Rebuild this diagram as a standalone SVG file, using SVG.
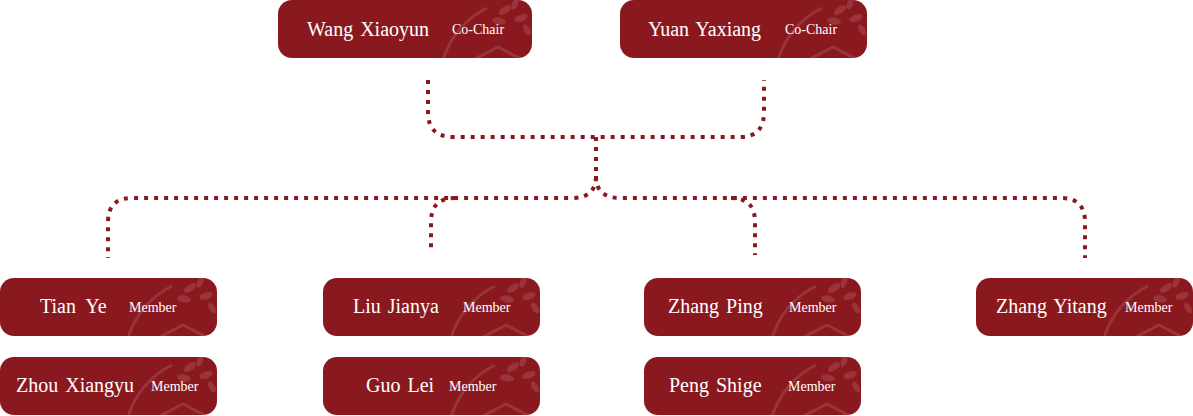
<svg xmlns="http://www.w3.org/2000/svg" width="1193" height="416" viewBox="0 0 1193 416">
<style>
.box{fill:#8A191F}
.name{font-family:"Liberation Serif","Times New Roman",serif;font-size:20px;fill:#FFFFFF;word-spacing:2px}
.role{font-family:"Liberation Serif","Times New Roman",serif;font-size:14px;fill:#FFFFFF}
.deco{fill:none;stroke:#FFFFFF;stroke-opacity:0.12;stroke-width:3}
.leaf{fill:#FFFFFF;fill-opacity:0.12}
.conn{fill:none;stroke:#8A191F;stroke-width:4;stroke-dasharray:4 6}
</style>
<defs>
<clipPath id="clipM" clipPathUnits="userSpaceOnUse"><rect x="0" y="0" width="217" height="58" rx="14"/></clipPath>
<clipPath id="clipW" clipPathUnits="userSpaceOnUse"><rect x="0" y="0" width="254" height="58" rx="14"/></clipPath>
<clipPath id="clipY" clipPathUnits="userSpaceOnUse"><rect x="0" y="0" width="247" height="58" rx="14"/></clipPath>
<g id="deco">
<path class="deco" d="M128,60 A85,85 0 0 1 172,8"/>
<path class="deco" d="M158,60 L183,47 L208,60"/>
<ellipse class="leaf" cx="190" cy="10" rx="7" ry="3.5" transform="rotate(-35 190 10)"/>
<ellipse class="leaf" cx="184" cy="21" rx="7" ry="3.5" transform="rotate(10 184 21)"/>
<ellipse class="leaf" cx="200" cy="4" rx="6" ry="3" transform="rotate(-70 200 4)"/>
<ellipse class="leaf" cx="206" cy="18" rx="7" ry="3.5" transform="rotate(-20 206 18)"/>
<ellipse class="leaf" cx="212" cy="30" rx="6" ry="3" transform="rotate(60 212 30)"/>
</g>
</defs>
<g id="connectors">
<path class="conn" d="M428,80 V112 Q428,137 453,137 H740 Q764,137 764,112 V80"/>
<path class="conn" d="M596,137 V176 Q596,198 572,198 H132 Q108,198 108,222 V258"/>
<path class="conn" d="M596,176 Q596,198 620,198 H1061 Q1085,198 1085,222 V258"/>
<path class="conn" d="M455,198 Q431,198 431,222 V252"/>
<path class="conn" d="M731,198 Q755,198 755,222 V255"/>
</g>
<g id="node-wang" transform="translate(278,0)">
<rect class="box" width="254" height="58" rx="14"/>
<g clip-path="url(#clipW)"><use href="#deco" x="37"/></g>
<text class="name" x="29" y="36">Wang Xiaoyun</text>
<text class="role" x="174" y="34">Co-Chair</text>
</g>
<g id="node-yuan" transform="translate(620,0)">
<rect class="box" width="247" height="58" rx="14"/>
<g clip-path="url(#clipY)"><use href="#deco" x="30"/></g>
<text class="name" x="28" y="36">Yuan Yaxiang</text>
<text class="role" x="165" y="34">Co-Chair</text>
</g>
<g id="node-tian" transform="translate(0,278)">
<rect class="box" width="217" height="58" rx="14"/>
<g clip-path="url(#clipM)"><use href="#deco"/></g>
<text class="name" x="40" y="35" style="word-spacing:5px">Tian Ye</text>
<text class="role" x="129" y="34">Member</text>
</g>
<g id="node-liu" transform="translate(323,278)">
<rect class="box" width="217" height="58" rx="14"/>
<g clip-path="url(#clipM)"><use href="#deco"/></g>
<text class="name" x="30" y="35">Liu Jianya</text>
<text class="role" x="140" y="34">Member</text>
</g>
<g id="node-zhangping" transform="translate(644,278)">
<rect class="box" width="217" height="58" rx="14"/>
<g clip-path="url(#clipM)"><use href="#deco"/></g>
<text class="name" x="24" y="35">Zhang Ping</text>
<text class="role" x="145" y="34">Member</text>
</g>
<g id="node-zhangyitang" transform="translate(976,278)">
<rect class="box" width="217" height="58" rx="14"/>
<g clip-path="url(#clipM)"><use href="#deco"/></g>
<text class="name" x="20" y="35">Zhang Yitang</text>
<text class="role" x="149" y="34">Member</text>
</g>
<g id="node-zhou" transform="translate(0,357)">
<rect class="box" width="217" height="58" rx="14"/>
<g clip-path="url(#clipM)"><use href="#deco"/></g>
<text class="name" x="16" y="35">Zhou Xiangyu</text>
<text class="role" x="151" y="34">Member</text>
</g>
<g id="node-guo" transform="translate(323,357)">
<rect class="box" width="217" height="58" rx="14"/>
<g clip-path="url(#clipM)"><use href="#deco"/></g>
<text class="name" x="43" y="35">Guo Lei</text>
<text class="role" x="126" y="34">Member</text>
</g>
<g id="node-peng" transform="translate(644,357)">
<rect class="box" width="217" height="58" rx="14"/>
<g clip-path="url(#clipM)"><use href="#deco"/></g>
<text class="name" x="25" y="35">Peng Shige</text>
<text class="role" x="144" y="34">Member</text>
</g>
</svg>
